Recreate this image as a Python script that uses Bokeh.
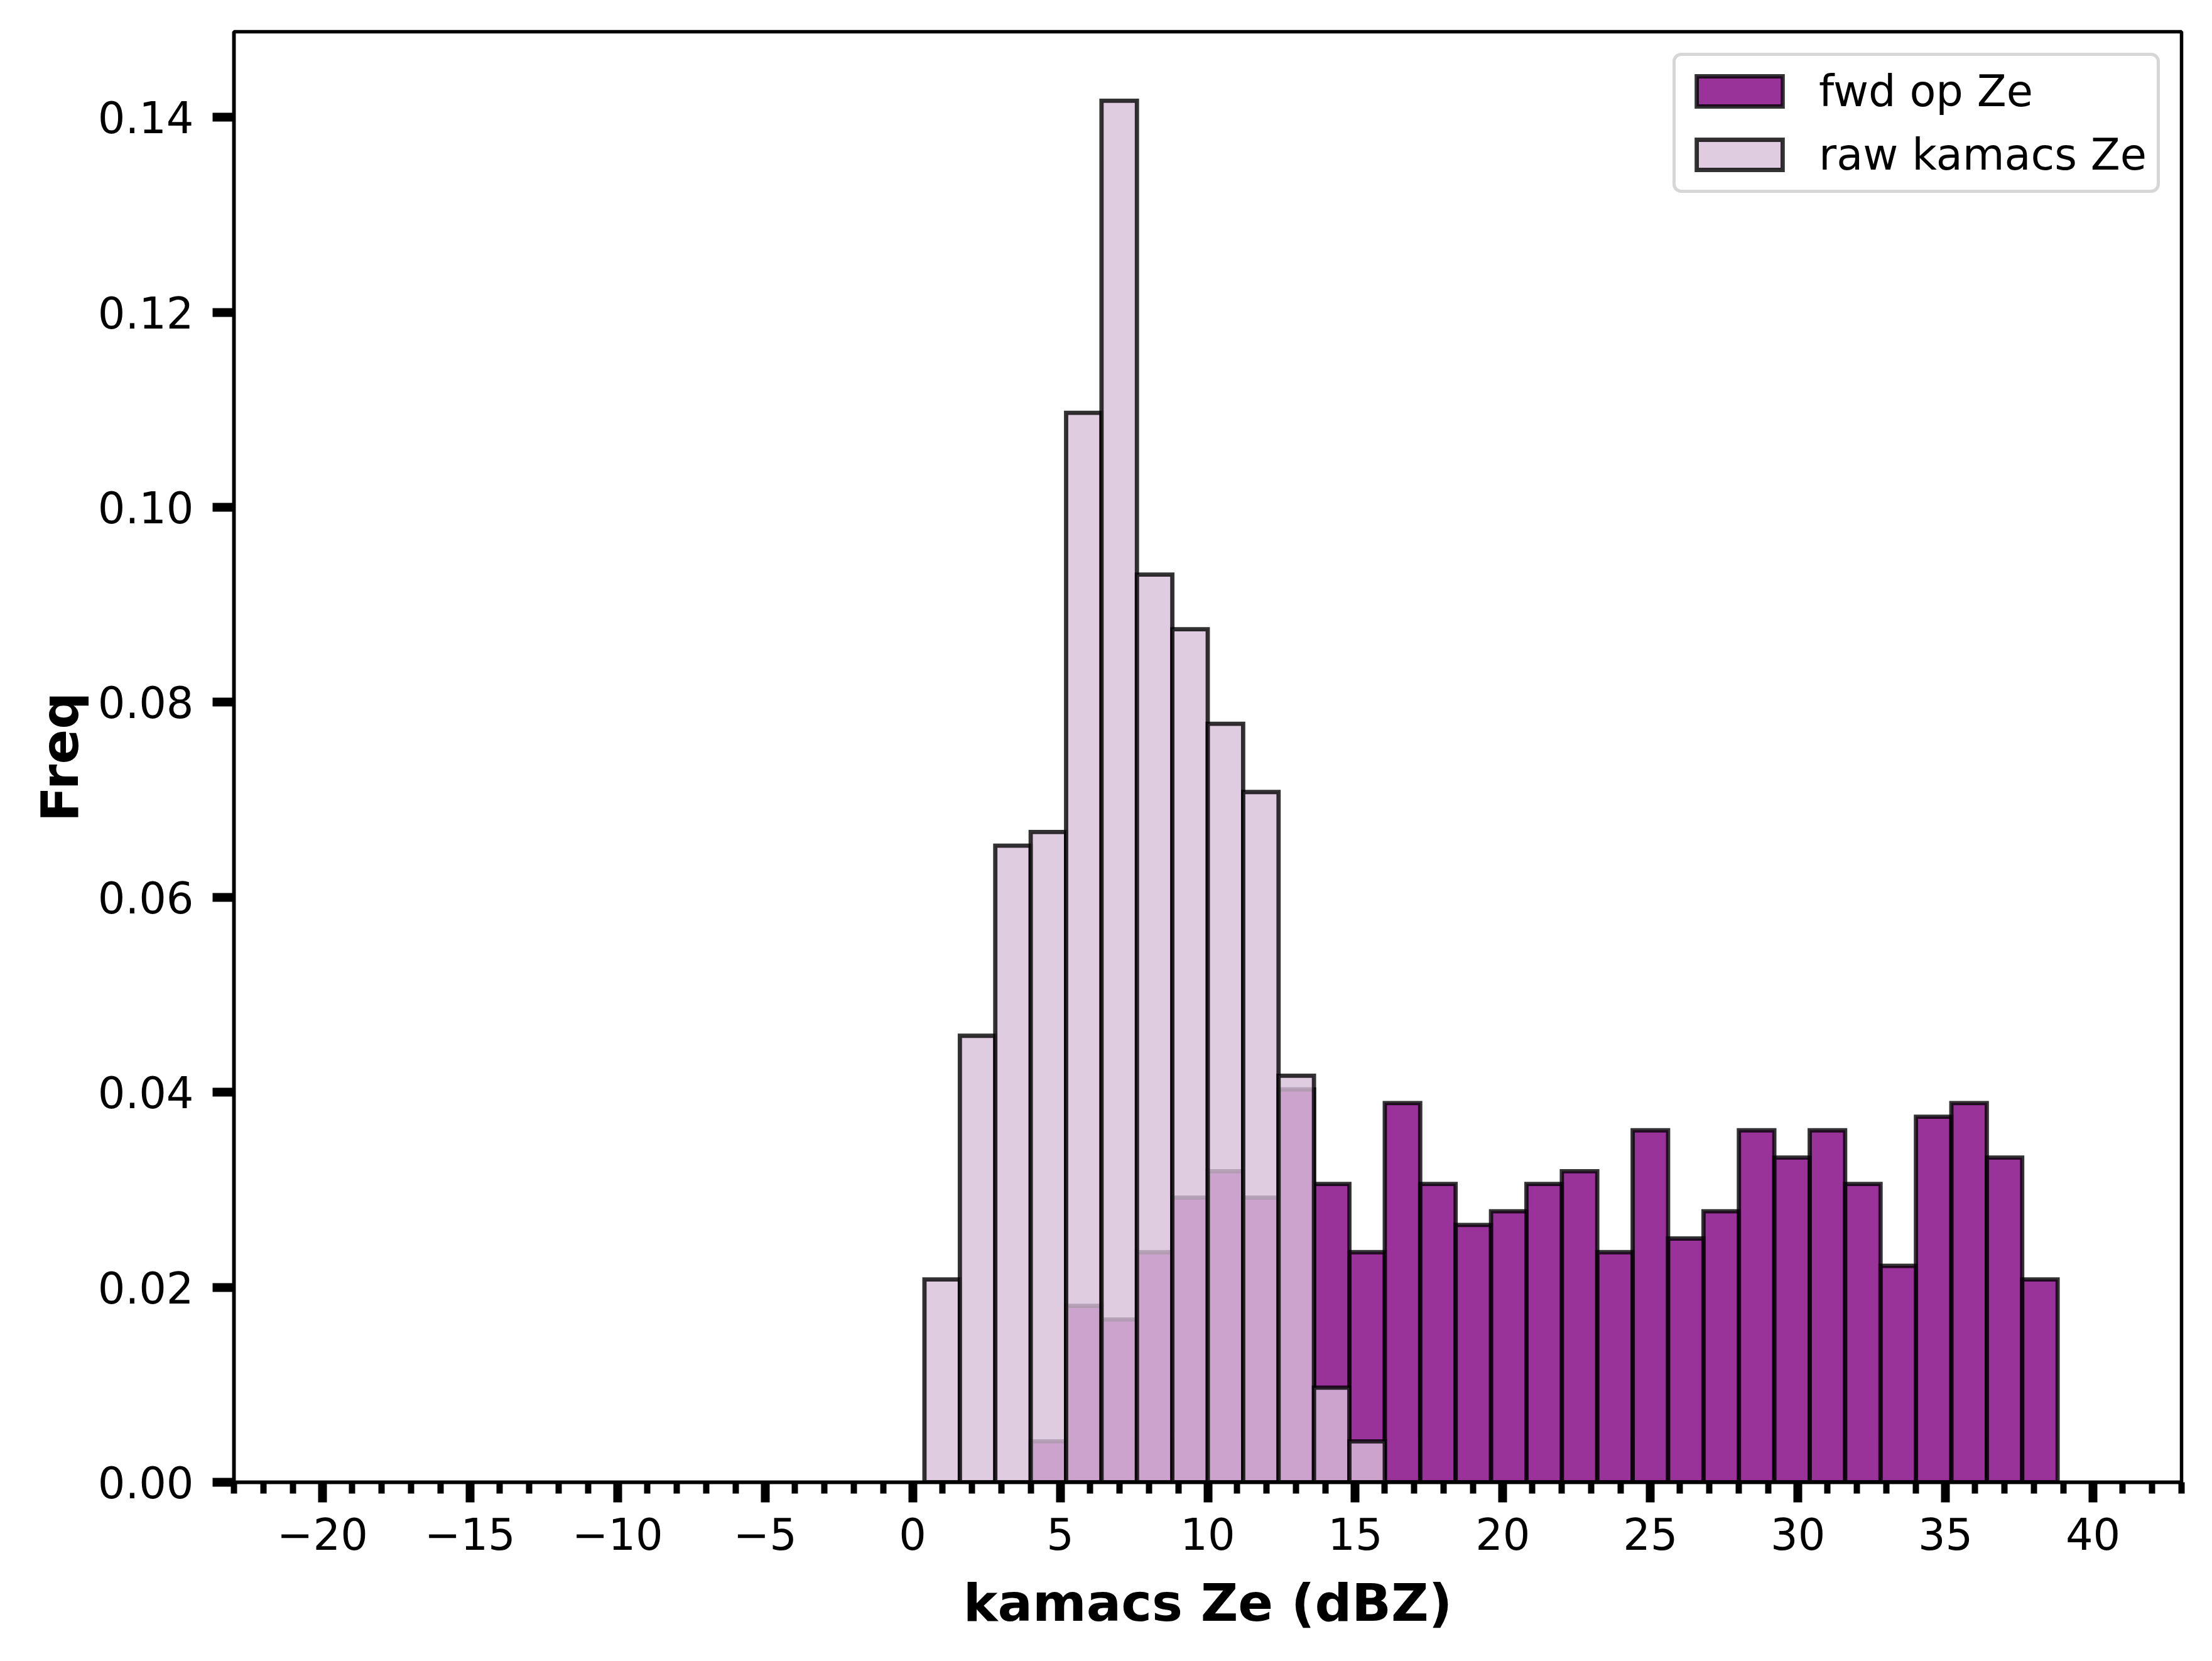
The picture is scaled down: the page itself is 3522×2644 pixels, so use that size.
from bokeh.plotting import figure
from bokeh.models import (Range1d, SingleIntervalTicker, CustomJSTickFormatter,
                          PrintfTickFormatter, Legend, LegendItem, ColumnDataSource)
from bokeh.embed import file_html
from bokeh.resources import INLINE

# ---- data (density histogram, bin width 1.2 dBZ) ----
bin_edges = [0.4, 1.6, 2.8, 4.0, 5.2, 6.4, 7.6, 8.8, 10.0, 11.2, 12.4, 13.6, 14.8,
             16.0, 17.2, 18.4, 19.6, 20.8, 22.0, 23.2, 24.4, 25.6, 26.8, 28.0, 29.2,
             30.4, 31.6, 32.8, 34.0, 35.2, 36.4, 37.6, 38.8]

# raw kamacs Ze: bins starting at 0.4
raw_freq = [0.0208, 0.0458, 0.0653, 0.0667, 0.1097, 0.1417, 0.0931, 0.0875,
            0.0778, 0.0708, 0.0417, 0.0097, 0.0042]
raw_first_bin = 0

# fwd op Ze: bins starting at 4.0
fwd_freq = [0.0042, 0.0181, 0.0167, 0.0236, 0.0292, 0.0319, 0.0292, 0.0403,
            0.0306, 0.0236, 0.0389, 0.0306, 0.0264, 0.0278, 0.0306, 0.0319,
            0.0236, 0.0361, 0.0250, 0.0278, 0.0361, 0.0333, 0.0361, 0.0306,
            0.0222, 0.0375, 0.0389, 0.0333, 0.0208]
fwd_first_bin = 3

labels = ["fwd op Ze", "raw kamacs Ze"]
x_label = "kamacs Ze (dBZ)"
y_label = "Freq"


def hist_source(first, freqs):
    n = len(freqs)
    return ColumnDataSource(dict(
        left=bin_edges[first:first + n],
        right=bin_edges[first + 1:first + 1 + n],
        top=freqs,
        bottom=[0.0] * n,
    ))


FONT = "DejaVu Sans"
TICK_FS = "68.6px"
LABEL_FS = "82.3px"

p = figure(width=3506, height=2628, output_backend="svg", toolbar_location=None,
           x_range=Range1d(-23.0, 43.0), y_range=Range1d(0.0, max(raw_freq) * 1.05),
           min_border_left=372, min_border_right=33, min_border_top=50,
           min_border_bottom=269)
p.grid.visible = False
p.background_fill_color = "white"
p.border_fill_color = "white"
p.outline_line_color = "black"
p.outline_line_width = 5.5
p.outline_line_alpha = 1.0

edge_kw = dict(line_color="black", line_alpha=0.8, line_width=6.8, line_join="miter")
fwd_r = p.quad(left="left", right="right", top="top", bottom="bottom",
               source=hist_source(fwd_first_bin, fwd_freq),
               fill_color="purple", fill_alpha=0.8, **edge_kw)
raw_r = p.quad(left="left", right="right", top="top", bottom="bottom",
               source=hist_source(raw_first_bin, raw_freq),
               fill_color="thistle", fill_alpha=0.8, **edge_kw)

# ---- axes ----
xa = p.xaxis[0]
xa.ticker = SingleIntervalTicker(interval=5, num_minor_ticks=5)
xa.formatter = CustomJSTickFormatter(
    code="return tick < 0 ? '\\u2212' + String(-tick) : String(tick);")
xa.major_tick_in = 0
xa.major_tick_out = 32
xa.minor_tick_in = 0
xa.minor_tick_out = 18
xa.major_tick_line_width = 14
xa.minor_tick_line_width = 10
xa.major_label_standoff = 24
xa.axis_label = x_label
xa.axis_label_standoff = 34

ya = p.yaxis[0]
ya.ticker = SingleIntervalTicker(interval=0.02, num_minor_ticks=0)
ya.formatter = PrintfTickFormatter(format="%.2f")
ya.major_tick_in = 0
ya.major_tick_out = 34
ya.major_tick_line_width = 14
ya.minor_tick_line_color = None
ya.major_label_standoff = 30
ya.axis_label = y_label
ya.axis_label_standoff = 10

for ax in (xa, ya):
    ax.axis_line_width = 5.5
    ax.axis_line_color = "black"
    ax.major_tick_line_color = "black"
    ax.major_label_text_font = FONT
    ax.major_label_text_font_size = TICK_FS
    ax.major_label_text_color = "black"
    ax.axis_label_text_font = FONT
    ax.axis_label_text_font_size = LABEL_FS
    ax.axis_label_text_font_style = "bold"
    ax.axis_label_text_color = "black"
xa.minor_tick_line_color = "black"

# ---- legend ----
legend = Legend(items=[LegendItem(label=labels[0], renderers=[fwd_r]),
                       LegendItem(label=labels[1], renderers=[raw_r])],
                location="top_right")
legend.margin = 34
legend.padding = 16
legend.spacing = 21
legend.glyph_width = 171
legend.glyph_height = 60
legend.label_standoff = 41
legend.label_text_font = FONT
legend.label_text_font_size = TICK_FS
legend.label_text_color = "black"
legend.border_line_color = "#cccccc"
legend.border_line_width = 5.5
legend.border_line_alpha = 0.8
legend.background_fill_color = "white"
legend.background_fill_alpha = 0.8
if "border_radius" in Legend.properties():
    legend.border_radius = 14
p.add_layout(legend)

open("out.html", "w").write(file_html(p, INLINE))
